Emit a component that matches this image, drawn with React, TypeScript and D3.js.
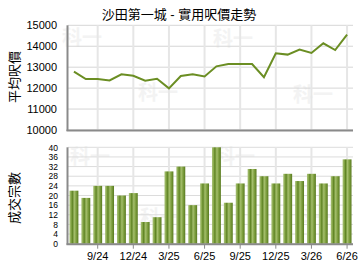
import React from "react";
import * as d3 from "d3";

const months = [
  "7/24","8/24","9/24","10/24","11/24","12/24","1/25","2/25","3/25","4/25","5/25","6/25",
  "7/25","8/25","9/25","10/25","11/25","12/25","1/26","2/26","3/26","4/26","5/26","6/26",
];
const tickMonths = ["9/24","12/24","3/25","6/25","9/25","12/25","3/26","6/26"];
const avgPrice = [
  12790, 12430, 12430, 12370, 12660, 12590, 12350, 12450, 11990, 12580, 12660, 12560,
  13040, 13150, 13150, 13150, 12520, 13660, 13600, 13840, 13680, 14140, 13820, 14550,
];
const deals = [
  22, 19, 24, 24, 20, 21, 9, 11, 30, 32, 16, 25,
  40, 17, 25, 31, 28, 25, 29, 26, 29, 25, 28, 35,
];
const priceTicks = [10000, 11000, 12000, 13000, 14000, 15000];
const dealTicks = [0, 4, 8, 12, 16, 20, 24, 28, 32, 36, 40];
const title = "沙田第一城 - 實用呎價走勢";
const priceLabel = "平均呎價";
const dealLabel = "成交宗數";

const FONT = "'Liberation Sans', Arial, 'Noto Sans CJK TC', sans-serif";

export default function App() {
  const left = 68, right = 353;
  const x = d3.scaleBand<string>().domain(months).range([left, right]).paddingInner(0.25).paddingOuter(0.125);
  const xc = d3.scaleBand<string>().domain(months).range([left, right]);
  const cxc = (m: string) => (xc(m) as number) + xc.bandwidth() / 2;

  const yP = d3.scaleLinear().domain([10000, 15000]).range([130, 25.3]);
  const yD = d3.scaleLinear().domain([0, 40]).range([243.7, 147.3]);

  const line = d3.line<number>().x((_, i) => cxc(months[i])).y((d) => yP(d));

  const watermark = (x0: number, y0: number, k: string) => (
    <text key={k} x={x0} y={y0} fontSize={20} fontWeight="bold" fill="#f3f3f3" fontFamily="'Noto Sans CJK TC', sans-serif">科一</text>
  );

  return (
    <svg width={360} height={270} style={{ position: "absolute", left: 0, top: 0, background: "#fff" }}>
      <defs>
        <linearGradient id="barGrad" x1="0" x2="1" y1="0" y2="0">
          <stop offset="0%" stopColor="#a9c17a" />
          <stop offset="18%" stopColor="#8aaa4c" />
          <stop offset="32%" stopColor="#5f8424" />
          <stop offset="55%" stopColor="#a4be6c" />
          <stop offset="75%" stopColor="#7fa040" />
          <stop offset="100%" stopColor="#587a1f" />
        </linearGradient>
      </defs>

      <text x={179} y={19} textAnchor="middle" fontSize={13} fontFamily={FONT} fill="#000">{title}</text>

      {/* Price chart */}
      {watermark(62, 45, "w1")}
      {watermark(138, 100, "w2")}
      {watermark(213, 46, "w3")}
      {watermark(293, 102, "w4")}
      {priceTicks.map((t) => (
        <line key={"pg" + t} x1={left} x2={right} y1={yP(t)} y2={yP(t)} stroke="#d6d6d6" strokeWidth={1} />
      ))}
      {tickMonths.map((m) => (
        <line key={"pv" + m} x1={cxc(m)} x2={cxc(m)} y1={yP(15000)} y2={yP(10000)} stroke="#e6e6e6" strokeWidth={2} />
      ))}
      <path d={line(avgPrice) || ""} fill="none" stroke="#6b8e23" strokeWidth={2} />
      <line x1={left - 0.5} x2={left - 0.5} y1={yP(15000)} y2={yP(10000) + 1} stroke="#8a8a8a" strokeWidth={2} />
      <line x1={left - 1.5} x2={right} y1={yP(10000) + 0.5} y2={yP(10000) + 0.5} stroke="#8a8a8a" strokeWidth={2} />
      {priceTicks.map((t) => (
        <text key={"pt" + t} x={57} y={yP(t) + 4} textAnchor="end" fontSize={11} fontFamily={FONT} fill="#000">{t}</text>
      ))}
      <text transform={`translate(19,77) rotate(-90)`} textAnchor="middle" fontSize={13} fontFamily={FONT} fill="#000">{priceLabel}</text>

      {/* Deals chart */}
      {watermark(70, 164, "w5")}
      {watermark(140, 225, "w6")}
      {watermark(215, 164, "w7")}
      {watermark(295, 225, "w8")}
      {dealTicks.map((t) => (
        <line key={"dg" + t} x1={left} x2={right} y1={yD(t)} y2={yD(t)} stroke="#dcdcdc" strokeWidth={1} />
      ))}
      {tickMonths.map((m) => (
        <line key={"dv" + m} x1={cxc(m)} x2={cxc(m)} y1={yD(40)} y2={yD(0)} stroke="#e6e6e6" strokeWidth={2} />
      ))}
      {deals.map((d, i) => (
        <rect key={"b" + i} x={x(months[i])} y={yD(d)} width={x.bandwidth()} height={yD(0) - yD(d)} fill="url(#barGrad)" />
      ))}
      <line x1={left - 0.5} x2={left - 0.5} y1={yD(40)} y2={yD(0) + 1} stroke="#8a8a8a" strokeWidth={2} />
      <line x1={left - 1.5} x2={right} y1={yD(0) + 0.5} y2={yD(0) + 0.5} stroke="#8a8a8a" strokeWidth={2} />
      {tickMonths.map((m) => (
        <line key={"dt" + m} x1={cxc(m)} x2={cxc(m)} y1={yD(0) + 1} y2={yD(0) + 5} stroke="#8a8a8a" strokeWidth={1} />
      ))}
      {tickMonths.map((m) => (
        <text key={"dl" + m} x={cxc(m)} y={260} textAnchor="middle" fontSize={11} fontFamily={FONT} fill="#000">{m}</text>
      ))}
      {dealTicks.map((t) => (
        <text key={"dtk" + t} x={58} y={yD(t) + 3.2} textAnchor="end" fontSize={8.5} fontFamily={FONT} fill="#000">{t}</text>
      ))}
      <text transform={`translate(19,198) rotate(-90)`} textAnchor="middle" fontSize={13} fontFamily={FONT} fill="#000">{dealLabel}</text>
    </svg>
  );
}
